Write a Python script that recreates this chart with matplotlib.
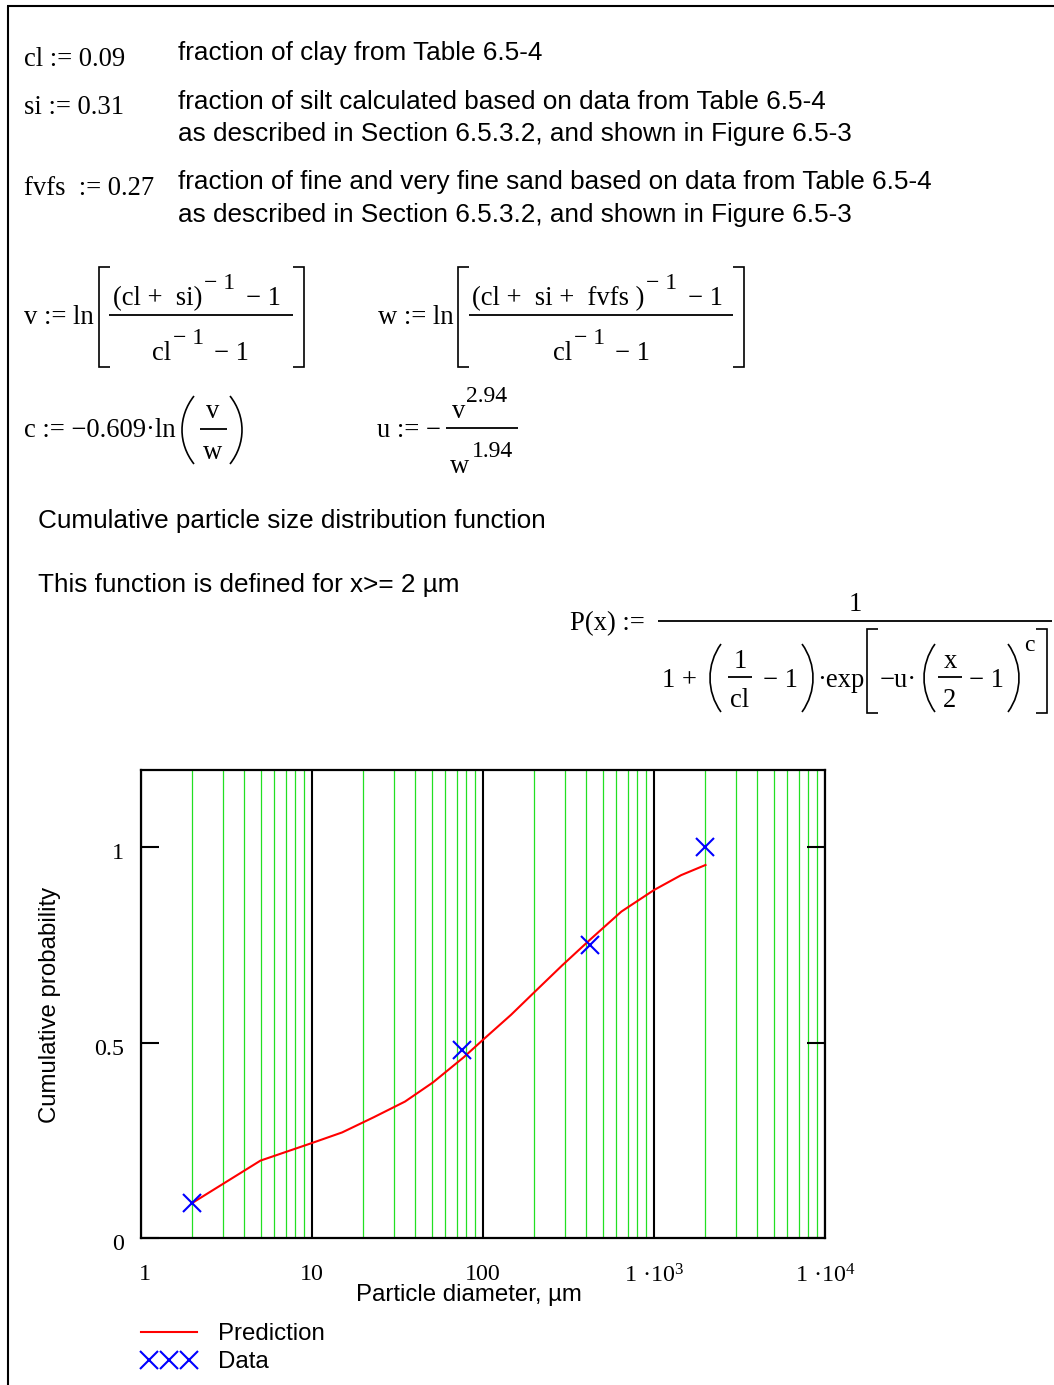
import numpy as np
import matplotlib
matplotlib.use('Agg')
import matplotlib.pyplot as plt
from matplotlib.lines import Line2D
from matplotlib.path import Path
from matplotlib.patches import PathPatch
from matplotlib.ticker import LogLocator, FixedLocator, NullFormatter
from matplotlib.legend_handler import HandlerLine2D
import matplotlib.transforms as mtransforms

# ---------------- data ----------------
data_d = [2, 75, 425, 2000]
data_p = [0.09, 0.48, 0.75, 1.0]
pred_d = [2, 5, 10, 15, 23, 35, 51, 77, 100, 146, 200, 290, 420, 645, 1000, 1440, 2000]
pred_p = [0.09, 0.198, 0.243, 0.270, 0.309, 0.349, 0.398, 0.462, 0.507, 0.571,
          0.629, 0.697, 0.762, 0.835, 0.890, 0.928, 0.954]
xtick_vals = [1, 10, 100, 1000, 10000]
xtick_labels = ['1', '10', '100', r'$\mathregular{1\ ·10^{3}}$', r'$\mathregular{1\ ·10^{4}}$']
ytick_vals = [0, 0.5, 1]
ytick_labels = ['0', '0.5', '1']
legend_labels = ['Prediction', 'Data']

SERIF = 'Liberation Serif'
SANS = 'Liberation Sans'
plt.rcParams['mathtext.fontset'] = 'custom'
plt.rcParams['mathtext.rm'] = SERIF
plt.rcParams['mathtext.it'] = SERIF
plt.rcParams['mathtext.bf'] = SERIF

MS = 19.2    # math serif size
SS = 17      # superscript size
TS = 18.8    # worksheet text size
CS = 17.3    # chart label size

W, H = 1054, 1385
fig = plt.figure(figsize=(W / 100, H / 100), dpi=100)
bg = fig.add_axes([0, 0, 1, 1])
bg.set_xlim(0, W)
bg.set_ylim(H, 0)
bg.axis('off')
renderer = fig.canvas.get_renderer()


def txt(x, y, s, size=MS, fam=SERIF, ha='left'):
    return bg.text(x, y, s, fontsize=size, family=fam, va='baseline', ha=ha, color='black')


def seq(x, y, parts):
    """parts: (string, size, dy, gap_after)"""
    for s, size, dy, gap in parts:
        t = txt(x, y + dy, s, size)
        x += t.get_window_extent(renderer).width + gap
    return x


def hline(x0, x1, y, lw=1.3):
    bg.plot([x0, x1], [y, y], color='black', lw=lw, solid_capstyle='butt')


def bracket(x, y0, y1, serif, lw=1.2):
    bg.plot([x + serif, x, x, x + serif], [y0, y0, y1, y1], color='black', lw=lw,
            solid_joinstyle='miter', solid_capstyle='butt')


def paren(x0, x1, y0, y1, left=True, lw=1.2):
    h = y1 - y0
    if left:
        xs, xc = x1, x0 - (x1 - x0) / 3
    else:
        xs, xc = x0, x1 + (x1 - x0) / 3
    verts = [(xs, y0), (xc, y0 + 0.3 * h), (xc, y1 - 0.3 * h), (xs, y1)]
    codes = [Path.MOVETO, Path.CURVE4, Path.CURVE4, Path.CURVE4]
    bg.add_patch(PathPatch(Path(verts, codes), fill=False, lw=lw, edgecolor='black'))


# worksheet border
bg.plot([8, 8], [6, H], color='black', lw=1.5, solid_capstyle='butt')
bg.plot([7, W], [6, 6], color='black', lw=1.5, solid_capstyle='butt')

# ---------------- definitions ----------------
txt(24, 66, 'cl := 0.09')
txt(24, 114, 'si := 0.31')
txt(24, 195, 'fvfs  := 0.27')
txt(178, 60, 'fraction of clay from Table 6.5-4', TS, SANS)
txt(178, 109, 'fraction of silt calculated based on data from Table 6.5-4', TS, SANS)
txt(178, 141, 'as described in Section 6.5.3.2, and shown in Figure 6.5-3', TS, SANS)
txt(178, 189, 'fraction of fine and very fine sand based on data from Table 6.5-4', TS, SANS)
txt(178, 222, 'as described in Section 6.5.3.2, and shown in Figure 6.5-3', TS, SANS)

# v
txt(24, 324, 'v := ln')
bracket(99, 267, 367, 11)
seq(113, 305, [('(cl +  si)', MS, 0, 2), ('− 1', SS, -16, 10), ('− 1', MS, 0, 0)])
hline(109, 293, 315)
seq(152, 360, [('cl', MS, 0, 2), ('− 1', SS, -16, 10), ('− 1', MS, 0, 0)])
bracket(304, 267, 367, -11)

# w
txt(378, 324, 'w := ln')
bracket(458, 267, 367, 11)
seq(472, 305, [('(cl +  si +  fvfs )', MS, 0, 2), ('− 1', SS, -16, 10), ('− 1', MS, 0, 0)])
hline(469, 733, 315)
seq(553, 360, [('cl', MS, 0, 2), ('− 1', SS, -16, 10), ('− 1', MS, 0, 0)])
bracket(744, 267, 367, -11)

# c
txt(24, 437, 'c := −0.609·ln')
paren(182, 194, 396, 464, left=True)
txt(213, 418, 'v', ha='center')
hline(200, 227, 429)
txt(213, 459, 'w', ha='center')
paren(230, 242, 396, 464, left=False)

# u
txt(377, 437, 'u := −')
hline(446, 518, 428)
txt(452, 418, 'v')
txt(466, 402, '2.94', SS)
txt(450, 473, 'w')
txt(472, 457, '1.94', SS)

# texts
txt(38, 528, 'Cumulative particle size distribution function', TS, SANS)
txt(38, 592, 'This function is defined for x>= 2 µm', TS, SANS)

# P(x)
txt(570, 630, 'P(x) :=')
hline(658, 1052, 621)
txt(855, 611, '1', ha='center')
txt(662, 687, '1 +')
paren(710, 721, 644, 712, left=True)
txt(740, 668, '1', ha='center')
hline(728, 752, 677)
txt(740, 707, 'cl', ha='center')
txt(763, 687, '− 1')
paren(802, 813, 644, 712, left=False)
txt(817, 687, '·exp')
bracket(867, 629, 713, 11)
txt(880, 687, '−u·')
paren(924, 935, 644, 712, left=True)
txt(950, 668, 'x', ha='center')
hline(938, 962, 677)
txt(950, 707, '2', ha='center')
txt(969, 687, '− 1')
paren(1008, 1019, 644, 712, left=False)
txt(1024, 651, 'c', SS)
bracket(1047, 629, 713, -11)

# ---------------- chart ----------------
ax = fig.add_axes([141 / W, 1 - 1238 / H, 684 / W, 468 / H])
ax.set_xscale('log')
ax.set_xlim(1, 1e4)
ax.set_ylim(0, 1.197)
ax.xaxis.set_major_locator(FixedLocator(xtick_vals))
ax.set_xticks(xtick_vals)
ax.set_xticklabels(xtick_labels, family=SERIF, fontsize=17.3)
ax.xaxis.set_minor_locator(LogLocator(base=10, subs=tuple(range(2, 10)), numticks=20))
ax.xaxis.set_minor_formatter(NullFormatter())
ax.grid(True, axis='x', which='minor', color='#22e022', lw=0.9)
ax.grid(True, axis='x', which='major', color='black', lw=1.5)
ax.tick_params(axis='x', which='both', length=0, pad=19)
ax.set_yticks(ytick_vals)
ax.set_yticklabels(ytick_labels, family=SERIF, fontsize=17.3)
ax.tick_params(axis='y', direction='in', length=13, width=1.5, left=True, right=True, pad=12)
for s in ax.spines.values():
    s.set_linewidth(1.6)
ax.set_axisbelow(True)

ax.plot(pred_d, pred_p, color='red', lw=1.5, zorder=3)
ax.plot(data_d, data_p, ls='none', marker='x', ms=13, mew=1.5, color='blue', zorder=4)

off = mtransforms.ScaledTranslation(0, -0.04, fig.dpi_scale_trans)
for lab in ax.get_yticklabels():
    lab.set_transform(lab.get_transform() + off)
offx = mtransforms.ScaledTranslation(0.04, 0, fig.dpi_scale_trans)
ax.get_xticklabels()[0].set_transform(ax.get_xticklabels()[0].get_transform() + offx)

ax.set_xlabel('Particle diameter, µm', family=SANS, fontsize=CS)
ax.xaxis.set_label_coords((469 - 141) / 684, (1238 - 1295) / 468)
ax.xaxis.label.set_va('center')
ax.set_ylabel('Cumulative probability', family=SANS, fontsize=CS)
ax.yaxis.set_label_coords((50 - 141) / 684, (1238 - 1005) / 468)
ax.yaxis.label.set_va('center')

h_pred = Line2D([], [], color='red', lw=1.5)
h_data = Line2D([], [], ls='none', marker='x', ms=13, mew=1.5, color='blue')
fig.legend([h_pred, h_data], legend_labels, loc='upper left',
           bbox_to_anchor=(141 / W, 1 - 1323 / H),
           handler_map={h_pred: HandlerLine2D(numpoints=1),
                        h_data: HandlerLine2D(numpoints=3, marker_pad=0.33)},
           frameon=False, prop={'family': SANS, 'size': CS},
           handlelength=2.33, handletextpad=0.87, labelspacing=0.25,
           borderpad=0, borderaxespad=0)

fig.savefig('out.png', dpi=100)
